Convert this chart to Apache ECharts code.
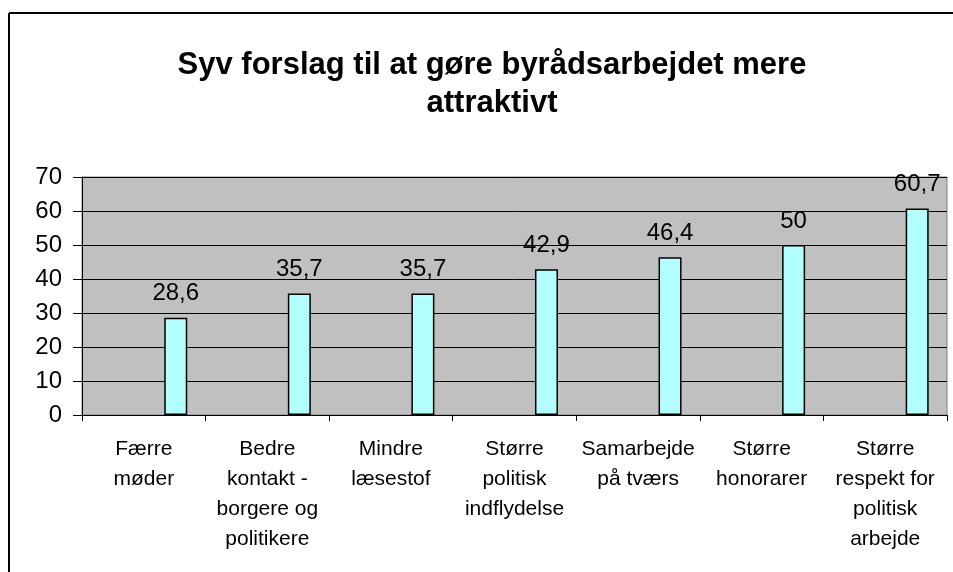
<!DOCTYPE html>
<html>
<head>
<meta charset="utf-8">
<script src="https://cdn.jsdelivr.net/npm/echarts@6/dist/echarts.min.js"></script>
<style>
html,body{margin:0;padding:0;background:#fff;}
#chart{width:953px;height:572px;}
</style>
</head>
<body>
<div id="chart"></div>
<script>
const titleText = 'Syv forslag til at gøre byrådsarbejdet mere\nattraktivt';
const categories = [
  'Færre\nmøder',
  'Bedre\nkontakt -\nborgere og\npolitikere',
  'Mindre\nlæsestof',
  'Større\npolitisk\nindflydelse',
  'Samarbejde\npå tværs',
  'Større\nhonorarer',
  'Større\nrespekt for\npolitisk\narbejde'
];
const values = [28.6, 35.7, 35.7, 42.9, 46.4, 50, 60.7];
const yTicks = [0, 10, 20, 30, 40, 50, 60, 70];

const FONT = "'Liberation Sans', Arial, sans-serif";
const chart = echarts.init(document.getElementById('chart'), null, {renderer: 'canvas'});
chart.setOption({
  animation: false,
  backgroundColor: '#ffffff',
  title: {
    text: titleText,
    left: 487,
    top: 41,
    textAlign: 'center',
    textStyle: {fontFamily: FONT, fontSize: 31, fontWeight: 'bold', color: '#000', lineHeight: 38}
  },
  graphic: [
    {type: 'line', shape: {x1: 9, y1: 13, x2: 953, y2: 13}, style: {stroke: '#000', lineWidth: 2}},
    {type: 'line', shape: {x1: 9, y1: 13, x2: 9, y2: 572}, style: {stroke: '#000', lineWidth: 2}}
  ],
  grid: {
    left: 82, right: 6, top: 177, bottom: 157,
    show: true, backgroundColor: '#C0C0C0', borderColor: '#808080', borderWidth: 1
  },
  xAxis: {
    type: 'category',
    data: categories,
    axisLine: {lineStyle: {color: '#000', width: 1}},
    axisTick: {show: true, length: 6, lineStyle: {color: '#000'}},
    axisLabel: {fontFamily: FONT, fontSize: 21, color: '#000', lineHeight: 30, margin: 19, interval: 0, align: 'center'}
  },
  yAxis: {
    type: 'value',
    min: yTicks[0], max: yTicks[yTicks.length - 1], interval: 10,
    axisLine: {show: true, lineStyle: {color: '#000', width: 1}},
    axisTick: {show: true, length: 9, lineStyle: {color: '#000'}},
    axisLabel: {fontFamily: FONT, fontSize: 24, color: '#000', margin: 20},
    splitLine: {show: true, lineStyle: {color: '#000', width: 1}}
  },
  series: [
    {
      name: 'spacer', type: 'bar', data: [], barWidth: 23, barGap: '178%'
    },
    {
      name: 'Andel', type: 'bar', data: values, barWidth: 23, barGap: '178%',
      itemStyle: {color: '#B3FFFF', borderColor: '#000', borderWidth: 1.5},
      label: {
        show: true, position: 'top', distance: 12,
        fontFamily: FONT, fontSize: 24, color: '#000',
        formatter: p => String(p.value).replace('.', ',')
      }
    }
  ]
});
</script>
</body>
</html>
